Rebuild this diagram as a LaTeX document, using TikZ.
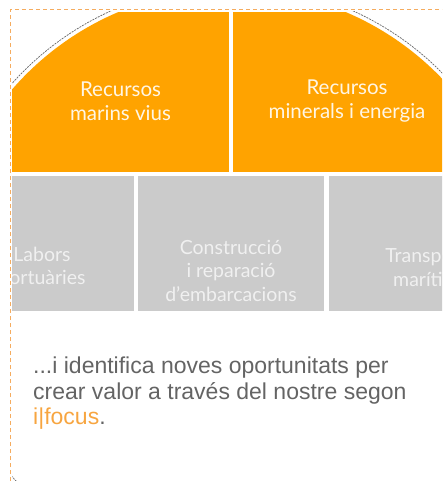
\documentclass[tikz,border=0pt]{standalone}
\usepackage{fontspec}
\setmainfont{Lato}
\newfontfamily\parafont{Liberation Sans}
\definecolor{myorange}{RGB}{255,163,0}
\definecolor{mylight}{RGB}{247,165,64}
\definecolor{mygrey}{RGB}{203,203,203}
\definecolor{mytext}{RGB}{100,100,100}
\definecolor{myframe}{RGB}{245,172,95}

\begin{document}
\begin{tikzpicture}[x=1pt, y=-1pt,
		orangebox/.style={fill=myorange, inner sep=0pt},
		greybox/.style={fill=mygrey, inner sep=0pt, minimum height=135pt},
		orangetext/.style={text=white!90!myorange, align=center, font=\fontsize{20.5}{24}\selectfont},
		greytext/.style={text=white!94!black, align=center, font=\fontsize{19.5}{23.5}\selectfont}]
			\useasboundingbox (0,0) rectangle (442,481);

			\begin{scope}
				\clip (12,12) rectangle (442,481);

				% Draw the two orange halves, cut by the circle
				\begin{scope}
					\clip (232,280) circle (291);
					\node[orangebox, minimum width=217pt, minimum height=160pt] (left) at (120.5,92) {};
					\node[orangebox, minimum width=228pt, minimum height=160pt] (right) at (347,92) {};
				\end{scope}
				\draw[black!60, dash pattern=on 2pt off 1pt, line width=0.7pt] (232,280) circle (295);
				\node[orangetext] (vius) at ([yshift=-9pt]left.center) {Recursos\\marins vius};
				\node[orangetext] (minerals) at ([yshift=-9pt]right.center) {Recursos\\minerals i energia};

				% Draw the grey row
				\node[greybox, minimum width=184pt] (box1) at (42,243.5) {};
				\node[greybox, minimum width=186pt] (box2) at (231,243.5) {};
				\node[greybox, minimum width=194pt] (box3) at (426,243.5) {};
				\node[greytext] (labors) at ([yshift=-24pt]box1.center) {Labors\\portuàries};
				\node[greytext] (construccio) at ([yshift=-27pt]box2.center) {Construcció\\i reparació\\d'embarcacions};
				\node[greytext] (transport) at ([yshift=-24pt]box3.center) {Transport\\marítim};
			\end{scope}

			% The dashed frame
			\draw[myframe, dash pattern=on 4pt off 3pt, line width=1pt] (10,481) -- (10,10) -- (442,10);

			% The closing sentence
			\node[anchor=north west, inner sep=0pt, align=left, text=mytext, font=\parafont\fontsize{23}{25.5}\selectfont] (lema) at (33,357) {...i identifica noves oportunitats per\\crear valor a través del nostre segon\\\textcolor{mylight}{i|focus}.};
		\end{tikzpicture}
\end{document}
